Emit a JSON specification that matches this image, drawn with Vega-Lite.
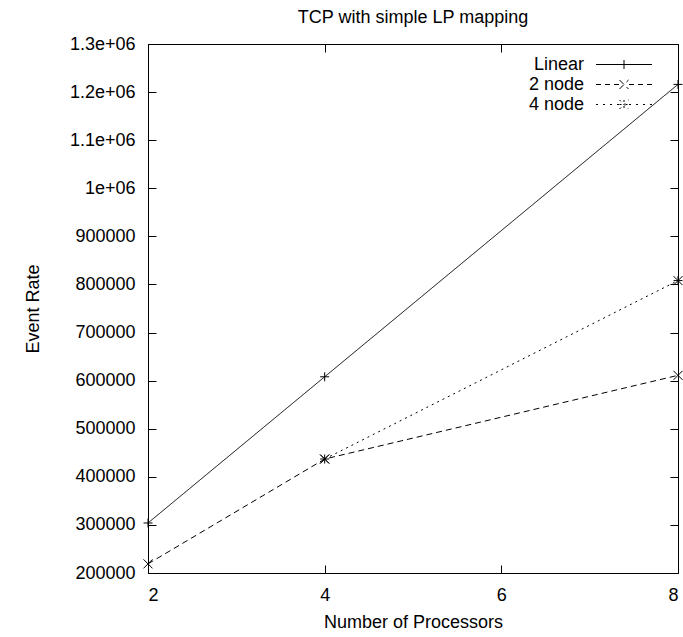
{
  "$schema": "https://vega.github.io/schema/vega-lite/v6.json",
  "autosize": {"type": "none"},
  "padding": {"left": 148, "top": 44, "right": 5, "bottom": 64},
  "width": 530,
  "height": 529,
  "background": "white",
  "title": {"text": "TCP with simple LP mapping", "fontSize": 18, "fontWeight": "normal", "font": "Liberation Sans", "color": "black", "anchor": "middle", "offset": 8},
  "data": {"values": [
    {"series": "Linear", "processors": 2, "rate": 304000},
    {"series": "Linear", "processors": 4, "rate": 608000},
    {"series": "Linear", "processors": 8, "rate": 1216000},
    {"series": "2 node", "processors": 2, "rate": 219000},
    {"series": "2 node", "processors": 4, "rate": 437000},
    {"series": "2 node", "processors": 8, "rate": 611000},
    {"series": "4 node", "processors": 4, "rate": 437000},
    {"series": "4 node", "processors": 8, "rate": 808000}
  ]},
  "layer": [
    {
      "mark": {"type": "line", "strokeWidth": 1},
      "encoding": {
        "x": {"field": "processors", "type": "quantitative", "scale": {"domain": [2, 8], "nice": false, "zero": false},
          "axis": {"values": [2, 4, 6, 8], "title": "Number of Processors", "tickSize": -8, "labelPadding": 21, "titleY": 49, "titleBaseline": "middle", "grid": false}},
        "y": {"field": "rate", "type": "quantitative", "scale": {"domain": [200000, 1300000], "nice": false, "zero": false},
          "axis": {"values": [200000, 300000, 400000, 500000, 600000, 700000, 800000, 900000, 1000000, 1100000, 1200000, 1300000],
            "labelExpr": "datum.value >= 1000000 ? format(datum.value/1000000, '~g') + 'e+06' : format(datum.value, 'd')",
            "title": "Event Rate", "tickSize": -8, "labelPadding": 21, "titleX": -115, "titleBaseline": "middle", "grid": false}},
        "strokeDash": {"field": "series", "type": "nominal",
          "scale": {"domain": ["Linear", "2 node", "4 node"], "range": [[1, 0], [6, 4], [2, 4]]},
          "legend": null},
        "color": {"field": "series", "type": "nominal",
          "scale": {"domain": ["Linear", "2 node", "4 node"], "range": ["black", "black", "black"]},
          "legend": {
            "orient": "none", "legendX": 436, "legendY": 10, "title": null, "padding": 0,
            "labelFontSize": 18, "labelFont": "Liberation Sans", "labelColor": "black",
            "symbolSize": 400, "rowPadding": 0, "symbolStrokeWidth": 1, "symbolType": "stroke",
            "encode": {
              "symbols": {"update": {
                "shape": {"signal": "datum.value === 'Linear' ? 'M-2.8,0L2.8,0M0,-0.45L0,0.45' : datum.value === '2 node' ? 'M-2.8,0L-2.3,0M-1.9,0L-1.4,0M-1,0L-0.5,0M0.5,0L1,0M1.4,0L1.9,0M2.3,0L2.8,0M-0.45,-0.45L0.45,0.45M-0.45,0.45L0.45,-0.45' : 'M-2.8,0L-2.6,0M-2.1,0L-1.9,0M-1.4,0L-1.2,0M-0.7,0L-0.5,0M0.5,0L0.7,0M1.2,0L1.4,0M1.9,0L2.1,0M2.6,0L2.8,0M-0.45,0L0.45,0M0,-0.45L0,0.45M-0.45,-0.45L0.45,0.45M-0.45,0.45L0.45,-0.45'"},
                "strokeDash": {"value": []},
                "stroke": {"value": "black"},
                "fill": {"value": "transparent"},
                "x": {"value": 40}
              }},
              "labels": {"update": {"x": {"value": 0}, "align": {"value": "right"}}}
            }
          }}
      }
    },
    {
      "transform": [{"filter": "datum.series === 'Linear'"}],
      "mark": {"type": "point", "filled": false, "color": "black", "strokeWidth": 1, "size": 81, "opacity": 1, "shape": "M-1,0L1,0M0,-1L0,1"},
      "encoding": {
        "x": {"field": "processors", "type": "quantitative",
          "axis": {"orient": "top", "values": [2, 4, 6, 8], "labels": false, "title": null, "domain": false, "tickSize": -8, "grid": false}},
        "y": {"field": "rate", "type": "quantitative",
          "axis": {"orient": "right", "values": [200000, 300000, 400000, 500000, 600000, 700000, 800000, 900000, 1000000, 1100000, 1200000, 1300000], "labels": false, "title": null, "domain": false, "tickSize": -8, "grid": false}}
      }
    },
    {
      "transform": [{"filter": "datum.series === '2 node'"}],
      "mark": {"type": "point", "filled": false, "color": "black", "strokeWidth": 1, "size": 81, "opacity": 1, "shape": "M-1,-1L1,1M-1,1L1,-1"},
      "encoding": {
        "x": {"field": "processors", "type": "quantitative", "axis": null},
        "y": {"field": "rate", "type": "quantitative", "axis": null}
      }
    },
    {
      "transform": [{"filter": "datum.series === '4 node'"}],
      "mark": {"type": "point", "filled": false, "color": "black", "strokeWidth": 1, "size": 81, "opacity": 1, "shape": "M-1,0L1,0M0,-1L0,1M-1,-1L1,1M-1,1L1,-1"},
      "encoding": {
        "x": {"field": "processors", "type": "quantitative", "axis": null},
        "y": {"field": "rate", "type": "quantitative", "axis": null}
      }
    }
  ],
  "resolve": {"axis": {"x": "independent", "y": "independent"}},
  "config": {
    "view": {"stroke": "black", "strokeWidth": 1},
    "axis": {
      "labelFont": "Liberation Sans", "labelFontSize": 18, "labelColor": "black",
      "titleFont": "Liberation Sans", "titleFontSize": 18, "titleFontWeight": "normal", "titleColor": "black",
      "domainColor": "black", "tickColor": "black", "domainWidth": 1, "tickWidth": 1
    }
  }
}
